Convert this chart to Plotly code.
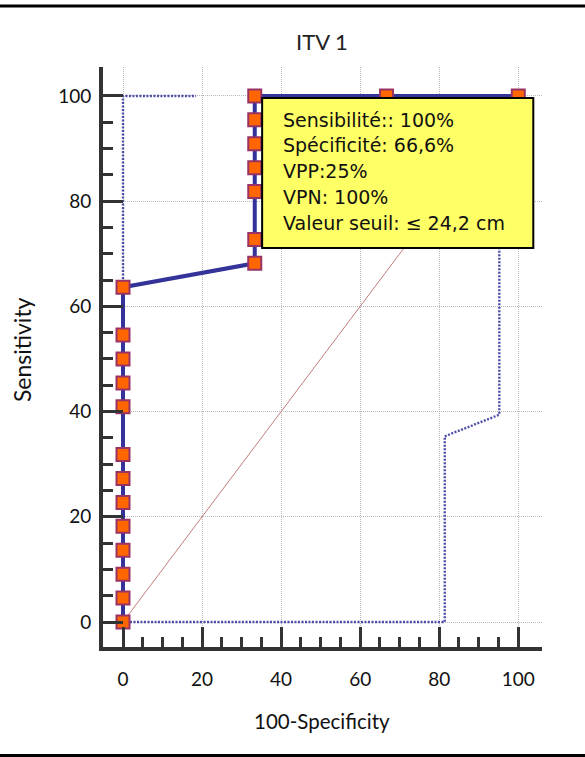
import plotly.graph_objects as go

# ROC curve points (100-Specificity, Sensitivity)
fpr = [0, 0, 0, 0, 0, 0, 0, 0, 0, 0, 0, 0, 0,
       33.33, 33.33, 33.33, 33.33, 33.33, 33.33, 33.33,
       66.67, 100]
sens = [0, 4.55, 9.09, 13.64, 18.18, 22.73, 27.27, 31.82, 40.91, 45.45, 50, 54.55, 63.64,
        68.18, 72.73, 81.82, 86.36, 90.91, 95.45, 100,
        100, 100]

# confidence bounds
upper_x = [0, 0, 18.5]
upper_y = [0, 100, 100]
lower_x = [0, 81.4, 81.4, 95.2, 95.2, 100]
lower_y = [0, 0, 35.3, 39.4, 100, 100]

diag = [0, 100]

tick_vals = [0, 20, 40, 60, 80, 100]
minor_vals = [v for v in range(0, 101, 5)]

info_lines = [
    "Sensibilité:: 100%",
    "Spécificité: 66,6%",
    "VPP:25%",
    "VPN: 100%",
    "Valeur seuil: ≤ 24,2 cm",
]

AX = "#333333"
CI = "#4d4daa"
fig = go.Figure()

fig.add_trace(go.Scatter(x=diag, y=diag, mode="lines",
                         line=dict(color="rgba(185,100,100,0.85)", width=1),
                         hoverinfo="skip"))
fig.add_trace(go.Scatter(x=upper_x, y=upper_y, mode="lines",
                         line=dict(color=CI, width=2.4, dash="2px,1.5px"),
                         hoverinfo="skip"))
fig.add_trace(go.Scatter(x=lower_x, y=lower_y, mode="lines",
                         line=dict(color=CI, width=2.4, dash="2px,1.5px"),
                         hoverinfo="skip"))
fig.add_trace(go.Scatter(x=fpr, y=sens, mode="lines+markers",
                         line=dict(color="#333399", width=4),
                         marker=dict(symbol="square", size=13, color="#ff6600",
                                     line=dict(color="#993366", width=2))))

axis_common = dict(
    showline=True, linecolor=AX, linewidth=4,
    ticks="inside", ticklen=20, tickwidth=3, tickcolor=AX,
    tickmode="array", tickvals=tick_vals,
    showgrid=True, gridcolor="#b8b8b8", gridwidth=1, griddash="1px,1px",
    zeroline=False,
    tickfont=dict(family="Lato", size=19, color="#111111"),
    minor=dict(tickmode="array", tickvals=minor_vals, ticks="inside",
               ticklen=10, tickwidth=3, tickcolor=AX, showgrid=False),
)

fig.update_xaxes(range=[-5.06, 106], ticklabelstandoff=12, **axis_common)
fig.update_yaxes(range=[-4.75, 105.5], ticklabelstandoff=4, **axis_common)

# yellow results box
fig.add_shape(type="rect", xref="x", yref="y", layer="above",
              x0=35.2, x1=103.8, y0=71.1, y1=99.62,
              fillcolor="#ffff66", line=dict(color="#000000", width=2))
line_y = [95.5, 90.6, 85.7, 80.8, 75.9]
for txt, yv in zip(info_lines, line_y):
    fig.add_annotation(
        x=40.0, y=yv, xref="x", yref="y", xanchor="left", yanchor="middle",
        text=txt, showarrow=False, align="left",
        font=dict(family="DejaVu Sans", size=19, color="#111111"),
    )

# chart title and axis titles
fig.add_annotation(x=0.499, y=1.0448, xref="paper", yref="paper",
                   xanchor="center", yanchor="middle",
                   text="ITV 1", showarrow=False,
                   font=dict(family="Lato", size=22, color="#222222"))
fig.add_annotation(x=0.499, y=-0.127, xref="paper", yref="paper",
                   xanchor="center", yanchor="middle",
                   text="100-Specificity", showarrow=False,
                   font=dict(family="Lato", size=20.5, color="#111111"))
fig.add_annotation(x=-0.1845, y=0.512, xref="paper", yref="paper",
                   xanchor="center", yanchor="middle",
                   text="Sensitivity", showarrow=False, textangle=-90,
                   font=dict(family="Lato", size=23, color="#111111"))

# horizontal rules framing the figure
for yp in [1.105, -0.187]:
    fig.add_shape(type="line", xref="paper", yref="paper",
                  x0=-0.25, x1=1.12, y0=yp, y1=yp,
                  line=dict(color="#000000", width=3))

fig.update_layout(
    width=585, height=757,
    margin=dict(l=103, r=43, t=67, b=110),
    paper_bgcolor="white", plot_bgcolor="white",
    showlegend=False,
)

fig.write_html("out.html")
